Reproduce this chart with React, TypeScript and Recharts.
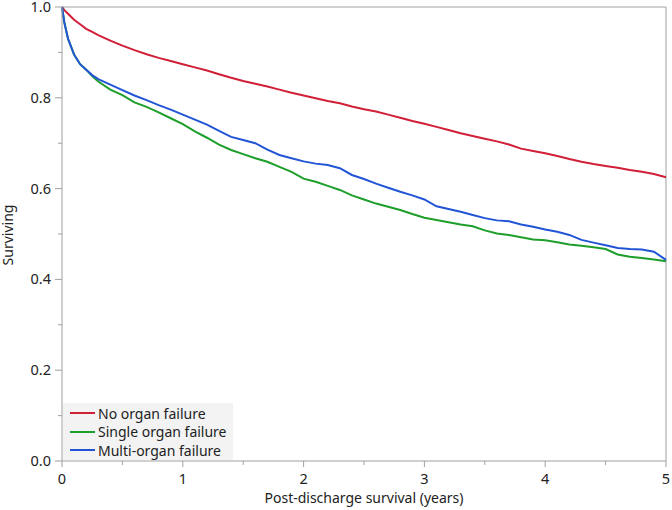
import React from "react"
import { LineChart, Line, XAxis, YAxis, ReferenceLine } from "recharts"

// follow-up time (years)
const years = [
  0, 0.02, 0.05, 0.1, 0.15, 0.2, 0.25, 0.3, 0.4, 0.5, 0.6, 0.7, 0.8, 0.9,
  1.0, 1.1, 1.2, 1.3, 1.4, 1.5, 1.6, 1.7, 1.8, 1.9,
  2.0, 2.1, 2.2, 2.3, 2.4, 2.5, 2.6, 2.7, 2.8, 2.9,
  3.0, 3.1, 3.2, 3.3, 3.4, 3.5, 3.6, 3.7, 3.8, 3.9,
  4.0, 4.1, 4.2, 4.3, 4.4, 4.5, 4.6, 4.7, 4.8, 4.9, 5.0,
]

const noOrganFailure = [
  1.0, 0.993, 0.985, 0.972, 0.962, 0.952, 0.945, 0.938, 0.926, 0.915, 0.905, 0.896, 0.888, 0.881,
  0.874, 0.867, 0.86, 0.852, 0.844, 0.837, 0.831, 0.825, 0.818, 0.811,
  0.805, 0.799, 0.793, 0.788, 0.781, 0.775, 0.77, 0.763, 0.756, 0.749,
  0.743, 0.736, 0.729, 0.722, 0.716, 0.71, 0.704, 0.697, 0.688, 0.683,
  0.678, 0.672, 0.665, 0.659, 0.654, 0.65, 0.646, 0.641, 0.637, 0.632, 0.625,
]

const singleOrganFailure = [
  1.0, 0.965, 0.93, 0.895, 0.874, 0.862, 0.848, 0.836, 0.818, 0.806, 0.79, 0.78, 0.768, 0.755,
  0.742, 0.726, 0.712, 0.697, 0.685, 0.676, 0.667, 0.659, 0.648, 0.637,
  0.622, 0.615, 0.606, 0.597, 0.585, 0.576, 0.567, 0.56, 0.553, 0.544,
  0.536, 0.531, 0.526, 0.521, 0.517, 0.508, 0.501, 0.498, 0.493, 0.488,
  0.486, 0.482, 0.477, 0.474, 0.471, 0.467, 0.455, 0.45, 0.447, 0.444, 0.44,
]

const multiOrganFailure = [
  1.0, 0.965, 0.93, 0.895, 0.874, 0.862, 0.85, 0.841, 0.829, 0.817, 0.805, 0.795, 0.784, 0.774,
  0.763, 0.752, 0.741, 0.727, 0.714, 0.707, 0.7, 0.686, 0.674, 0.667,
  0.66, 0.655, 0.652, 0.645, 0.63, 0.621, 0.611, 0.602, 0.593, 0.585,
  0.576, 0.561, 0.555, 0.549, 0.542, 0.535, 0.53, 0.528, 0.521, 0.516,
  0.51, 0.505, 0.498, 0.487, 0.481, 0.475, 0.469, 0.467, 0.466, 0.461, 0.443,
]

const xTicks = [0, 0.5, 1, 1.5, 2, 2.5, 3, 3.5, 4, 4.5, 5]
const yTicks = [0, 0.1, 0.2, 0.3, 0.4, 0.5, 0.6, 0.7, 0.8, 0.9, 1.0]

const series = [
  { key: "none", name: "No organ failure", color: "#d01f37", values: noOrganFailure },
  { key: "single", name: "Single organ failure", color: "#1e9e2a", values: singleOrganFailure },
  { key: "multi", name: "Multi-organ failure", color: "#2255d6", values: multiOrganFailure },
]

const rows = years.map((t, i) => {
  const row: Record<string, number> = { t }
  series.forEach((s) => (row[s.key] = s.values[i]))
  return row
})

const FONT = "'Noto Sans', 'Open Sans', sans-serif"
const AXIS = "#a0a0a0"
const TEXT = "#222"

const isMajor = (v: number) => Math.abs(v * 5 - Math.round(v * 5)) < 1e-6

const YTick = (props: any) => {
  const { x, y, payload } = props
  const major = isMajor(payload.value)
  return (
    <g>
      <line x1={x} x2={x - (major ? 7 : 4)} y1={y} y2={y} stroke={AXIS} />
      {major && (
        <text x={x - 11} y={y} dy={5} textAnchor="end" fontSize={14.5} fill={TEXT} fontFamily={FONT}>
          {payload.value.toFixed(1)}
        </text>
      )}
    </g>
  )
}

const XTick = (props: any) => {
  const { x, y, payload } = props
  const major = Number.isInteger(payload.value)
  return (
    <g>
      <line x1={x} x2={x} y1={y} y2={y + (major ? 6 : 4)} stroke={AXIS} />
      {major && (
        <text x={x} y={y + 23} textAnchor="middle" fontSize={14.5} fill={TEXT} fontFamily={FONT}>
          {payload.value}
        </text>
      )}
    </g>
  )
}

export default function App() {
  return (
    <div style={{ position: "absolute", left: 0, top: 0, width: 672, height: 510, background: "#fff" }}>
      <LineChart width={672} height={510} data={rows} margin={{ top: 7, right: 6, bottom: 0, left: 0 }}>
        <XAxis
          dataKey="t"
          type="number"
          domain={[0, 5]}
          ticks={xTicks}
          interval={0}
          height={49}
          tickSize={0}
          tickMargin={0}
          tick={<XTick />}
          stroke={AXIS}
          label={{
            content: () => (
              <text x={364} y={503} textAnchor="middle" fontSize={14} fill={TEXT} fontFamily={FONT}>
                Post-discharge survival (years)
              </text>
            ),
          }}
        />
        <YAxis
          type="number"
          domain={[0, 1]}
          ticks={yTicks}
          interval={0}
          width={62}
          tickSize={0}
          tickMargin={0}
          tick={<YTick />}
          stroke={AXIS}
          label={{
            content: () => (
              <text x={13} y={235} transform="rotate(-90 13 235)" textAnchor="middle" fontSize={14} fill={TEXT} fontFamily={FONT}>
                Surviving
              </text>
            ),
          }}
        />
        <ReferenceLine y={1} stroke={AXIS} />
        <ReferenceLine x={5} stroke={AXIS} />
        {series.map((s) => (
          <Line
            key={s.key}
            dataKey={s.key}
            name={s.name}
            type="linear"
            stroke={s.color}
            strokeWidth={2}
            dot={false}
            isAnimationActive={false}
          />
        ))}
      </LineChart>
      <div
        style={{
          position: "absolute",
          left: 63,
          top: 403,
          width: 170,
          height: 57,
          background: "#f3f3f3",
          fontFamily: FONT,
          fontSize: 14,
          color: TEXT,
          paddingTop: 1,
          boxSizing: "border-box",
        }}
      >
        {series.map((s) => (
          <div key={s.key} style={{ display: "flex", alignItems: "center", height: 18.5, whiteSpace: "nowrap" }}>
            <span style={{ display: "inline-block", width: 25, height: 2, background: s.color, marginLeft: 7, marginRight: 3 }} />
            <span>{s.name}</span>
          </div>
        ))}
      </div>
    </div>
  )
}
